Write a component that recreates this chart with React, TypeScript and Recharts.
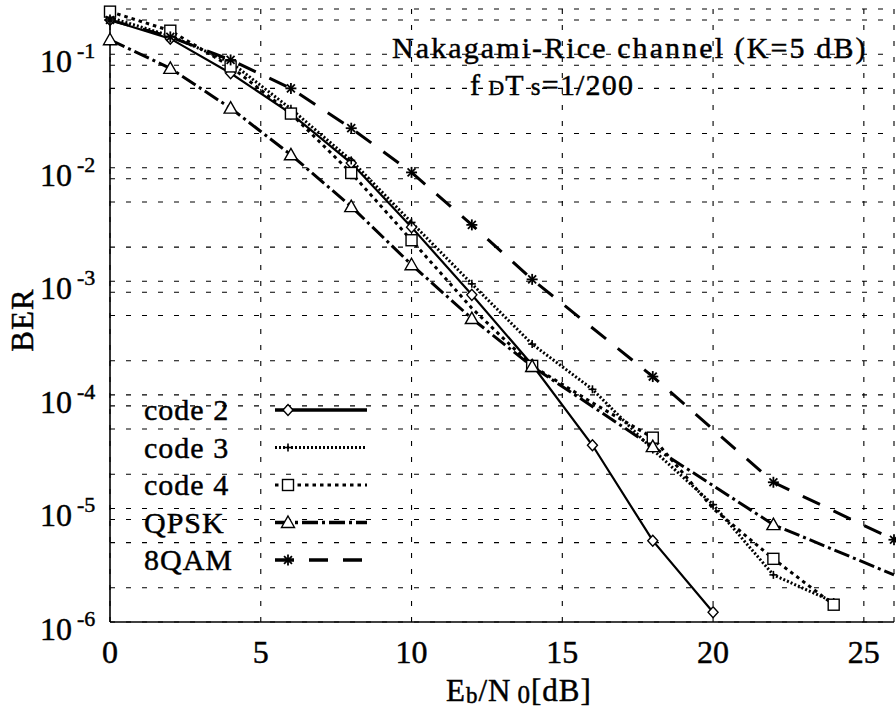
import {
  CartesianGrid,
  Customized,
  Legend,
  Line,
  LineChart,
  XAxis,
  YAxis,
} from 'recharts';

const serif = '"Liberation Serif", "Times New Roman", serif';

// Eb/N0 [dB] and BER
const code2Snr = [0, 2, 4, 6, 8, 10, 12, 14, 16, 18, 20];
const code2Ber = [0.2, 0.137, 0.068, 0.03, 0.011, 0.003, 7.6e-4, 1.84e-4, 3.6e-5, 5.2e-6, 1.22e-6];

const code3Snr = [0, 2, 4, 6, 8, 10, 12, 14, 16, 18, 20, 22, 24];
const code3Ber = [0.21, 0.145, 0.085, 0.033, 0.0116, 0.0033, 9.5e-4, 2.8e-4, 1.12e-4, 3.3e-5, 1.08e-5, 2.6e-6, 1.5e-6];

const code4Snr = [0, 2, 4, 6, 8, 10, 12, 14, 16, 18, 20, 22, 24];
const code4Ber = [0.237, 0.161, 0.078, 0.03, 0.009, 0.0023, 5.8e-4, 1.8e-4, 8.5e-5, 4.2e-5, 1.0e-5, 3.6e-6, 1.42e-6];
const code4Bare = [12, 16, 20];

const qpskSnr = [0, 2, 4, 6, 8, 10, 12, 14, 18, 22, 26];
const qpskBer = [0.134, 0.075, 0.0335, 0.013, 0.00455, 0.0014, 4.7e-4, 1.78e-4, 3.5e-5, 7.2e-6, 2.6e-6];
const qpskBare = [26];

const qamSnr = [0, 2, 4, 6, 8, 10, 12, 14, 18, 22, 26];
const qamBer = [0.2, 0.142, 0.089, 0.05, 0.0223, 0.0091, 0.00314, 0.00104, 1.45e-4, 1.7e-5, 5.3e-6];

const xTicks = [0, 5, 10, 15, 20, 25];
const berDecades = [1e-1, 1e-2, 1e-3, 1e-4, 1e-5, 1e-6];
const gridMantissas = [2, 5, 8];

const yMin = 1e-6;
const yMax = 0.25;

const yTicks = berDecades
  .flatMap((d) => [d, ...gridMantissas.map((m) => m * d)])
  .filter((v) => v >= yMin * 0.999 && v <= yMax)
  .sort((a, b) => a - b);

const toPoints = (xs: number[], ys: number[]) =>
  xs.map((x, i) => ({ snr: x, ber: ys[i] }));

type MarkerKind = 'diamond' | 'plus' | 'square' | 'triangle' | 'star';

const series = [
  { name: 'code 2', data: toPoints(code2Snr, code2Ber), bare: [] as number[], dash: undefined, width: 2.2, legendWidth: 3.5, marker: 'diamond' as MarkerKind },
  { name: 'code 3', data: toPoints(code3Snr, code3Ber), bare: [] as number[], dash: '2 2', width: 3, legendWidth: 3, marker: 'plus' as MarkerKind },
  { name: 'code 4', data: toPoints(code4Snr, code4Ber), bare: code4Bare, dash: '3.5 4', width: 3, legendWidth: 3, marker: 'square' as MarkerKind },
  { name: 'QPSK', data: toPoints(qpskSnr, qpskBer), bare: qpskBare, dash: '16 4 3 4', width: 3, legendWidth: 3.5, marker: 'triangle' as MarkerKind },
  { name: '8QAM', data: toPoints(qamSnr, qamBer), bare: [] as number[], dash: '19 15', width: 3, legendWidth: 3.5, marker: 'star' as MarkerKind },
];

// scanned original has heavy glyphs
const ink = { fill: '#000', stroke: '#000', strokeWidth: 0.45 };

function Marker({ kind, cx, cy }: { kind: MarkerKind; cx: number; cy: number }) {
  const s = { stroke: '#000', strokeWidth: 1.4, fill: '#fff' };
  if (kind === 'diamond')
    return <polygon points={`${cx},${cy - 5.5} ${cx + 5},${cy} ${cx},${cy + 5.5} ${cx - 5},${cy}`} {...s} />;
  if (kind === 'square')
    return <rect x={cx - 5.5} y={cy - 5.5} width={11} height={11} {...s} />;
  if (kind === 'triangle')
    return <polygon points={`${cx},${cy - 6.5} ${cx + 6.5},${cy + 5} ${cx - 6.5},${cy + 5}`} {...s} />;
  if (kind === 'plus')
    return (
      <g stroke="#000" strokeWidth={1.6}>
        <line x1={cx - 4} y1={cy} x2={cx + 4} y2={cy} />
        <line x1={cx} y1={cy - 4} x2={cx} y2={cy + 4} />
      </g>
    );
  const r = 5.5;
  const d = r * 0.72;
  return (
    <g stroke="#000" strokeWidth={1.8}>
      <line x1={cx - r} y1={cy} x2={cx + r} y2={cy} />
      <line x1={cx} y1={cy - r} x2={cx} y2={cy + r} />
      <line x1={cx - d} y1={cy - d} x2={cx + d} y2={cy + d} />
      <line x1={cx - d} y1={cy + d} x2={cx + d} y2={cy - d} />
    </g>
  );
}

function YTick(props: any) {
  const { x, y, payload } = props;
  const lg = Math.log10(payload.value);
  if (Math.abs(lg - Math.round(lg)) > 1e-6) return <g />;
  return (
    <g fontFamily={serif} {...ink}>
      <text x={x - 70} y={y + 18} fontSize={32}>
        10
      </text>
      <text x={x - 33} y={y + 4} fontSize={22}>
        {Math.round(lg)}
      </text>
    </g>
  );
}

function XTick(props: any) {
  const { x, y, payload } = props;
  return (
    <text x={x} y={y + 41} textAnchor="middle" fontSize={32} fontFamily={serif} {...ink}>
      {payload.value}
    </text>
  );
}

function LegendBox() {
  return (
    <svg width={240} height={190} style={{ overflow: 'visible' }}>
      {series.map((s, i) => {
        const cy = 20 + i * 37.5;
        return (
          <g key={s.name}>
            <text x={4} y={cy + 10} fontSize={30} fontFamily={serif} letterSpacing={1} {...ink}>
              {s.name}
            </text>
            <line
              x1={135}
              y1={cy}
              x2={227}
              y2={cy}
              stroke="#000"
              strokeWidth={s.legendWidth}
              strokeDasharray={s.dash}
            />
            <Marker kind={s.marker} cx={148} cy={cy} />
          </g>
        );
      })}
    </svg>
  );
}

function Texts() {
  return (
    <g fontFamily={serif} {...ink}>
      <text x={392} y={58} fontSize={30} letterSpacing={2.1}>
        Nakagami-Rice channel (K=5 dB)
      </text>
      <text x={470} y={95} fontSize={30} letterSpacing={1.2}>
        f
        <tspan fontSize={22} dx={7}>
          D
        </tspan>
        <tspan>T</tspan>
        <tspan fontSize={25} dx={6}>
          s
        </tspan>
        <tspan>=1/200</tspan>
      </text>
      <text transform="translate(33,320) rotate(-90)" textAnchor="middle" fontSize={31} letterSpacing={1}>
        BER
      </text>
      <text x={446} y={701} fontSize={31} letterSpacing={1}>
        E
        <tspan fontSize={23} dy={2}>
          b
        </tspan>
        <tspan dy={-2}>/N</tspan>
        <tspan fontSize={25} dx={6} dy={2}>
          0
        </tspan>
        <tspan dy={-2}>[dB]</tspan>
      </text>
    </g>
  );
}

export default function App() {
  return (
    <div style={{ position: 'absolute', left: 0, top: 0, width: 896, height: 715, background: '#fff' }}>
      <LineChart width={896} height={715} margin={{ top: 9, right: 2, bottom: 0, left: 10 }}>
        <CartesianGrid stroke="#000" strokeWidth={1.1} strokeDasharray="5 11" />
        <XAxis
          dataKey="snr"
          type="number"
          domain={[0, 26]}
          ticks={xTicks}
          height={93}
          tickLine={false}
          tickSize={0}
          tickMargin={0}
          axisLine={{ stroke: '#000', strokeWidth: 1.6 }}
          tick={<XTick />}
        />
        <XAxis
          xAxisId="top"
          orientation="top"
          type="number"
          domain={[0, 26]}
          height={0}
          tick={false}
          tickLine={false}
          axisLine={{ stroke: '#000', strokeWidth: 1.6 }}
        />
        <YAxis
          dataKey="ber"
          scale="log"
          domain={[yMin, yMax]}
          ticks={yTicks}
          width={100}
          interval={0}
          tickLine={false}
          tickSize={0}
          tickMargin={0}
          axisLine={{ stroke: '#000', strokeWidth: 1.6 }}
          tick={<YTick />}
        />
        <YAxis
          yAxisId="right"
          orientation="right"
          type="number"
          domain={[0, 1]}
          width={0}
          tick={false}
          tickLine={false}
          axisLine={{ stroke: '#000', strokeWidth: 1.6 }}
        />
        {series.map((s) => (
          <Line
            key={s.name}
            data={s.data}
            dataKey="ber"
            name={s.name}
            type="linear"
            stroke="#000"
            strokeWidth={s.width}
            strokeDasharray={s.dash}
            isAnimationActive={false}
            dot={(p: any) => {
              if (p.cx == null || s.bare.includes(p.payload.snr))
                return <g key={`${s.name}-${p.index}`} />;
              return (
                <g key={`${s.name}-${p.index}`}>
                  <Marker kind={s.marker} cx={p.cx} cy={p.cy} />
                </g>
              );
            }}
            activeDot={false}
          />
        ))}
        <Legend
          layout="horizontal"
          verticalAlign="middle"
          align="center"
          content={() => <LegendBox />}
          wrapperStyle={{ position: 'absolute', left: 140, top: 390, width: 240, height: 190 }}
        />
        <Customized component={Texts} />
      </LineChart>
    </div>
  );
}
